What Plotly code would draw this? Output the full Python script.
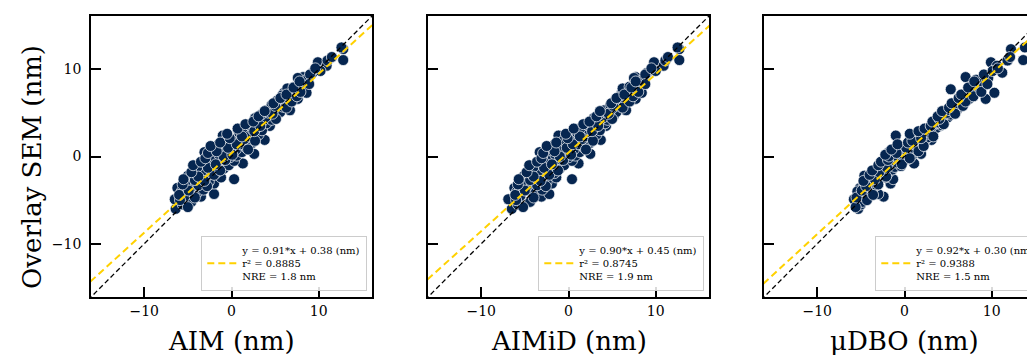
import plotly.graph_objects as go

# ---------------- data ----------------
methods = ["AIM", "AIMiD", "μDBO"]

y_sem = [
    -6.0, -4.9, -3.6, -4.6, -4.3, -2.2, -3.1, 0.5, 2.4, -0.8,
    2.0, 3.5, 5.3, 6.6, 7.7, 7.3, 8.1, 9.6, 10.8, 10.4,
    12.3, 11.05, 9.1, 12.5, 7.3, 1.9, 0.3, -2.6,
    -5.5, -5.2, -4.5, -4.2, -4.0, -3.8, -3.5, -3.3, -3.0, -2.9,
    -2.7, -2.5, -2.4, -2.2, -2.0, -1.9, -1.7, -1.5, -1.4, -1.2,
    -1.1, -1.0, -0.8, -0.7, -0.5, -0.4, -0.3, -0.1, 0.0, 0.1,
    0.2, 0.3, 0.5, 0.6, 0.7, 0.8, 0.9, 1.0, 1.1, 1.3,
    1.4, 1.5, 1.7, 1.8, 2.0, 2.2, 2.3, 2.5, 2.7, 2.8,
    3.0, 3.1, 3.3, 3.4, 3.6, 3.8, 3.9, 4.1, 4.2, 4.4,
    4.5, 4.7, 4.8, 5.0, 5.1, 5.3, 5.5, 5.7, 5.9, 6.0,
    6.2, 6.4, 6.6, 6.8, 7.0, 7.2, 7.5, 7.8, 8.0, 8.4,
    8.8, 9.0, 9.4, 9.8, 10.1, 11.0, 11.4,
    -5.8, -5.0, -4.7, -4.4, -3.9, -3.4, -3.2, -2.8, -2.6, -2.3,
    -2.1, -1.8, -1.6, -1.3, -1.0, -0.9, -0.6, -0.4, -0.2, 0.0,
    0.2, 0.4, 0.6, 0.8, 1.0, 1.2, 1.4, 1.6, 1.8, 2.1,
    2.3, 2.6, 2.9, 3.2, 3.5, 3.7, 4.0, 4.3, 4.6, 4.9,
    5.2, 5.6, 5.8, 6.1, 6.3, 6.7, 6.9, 7.1, 7.4, 7.9,
    8.3, 8.6,
]
x_aim = [
    -6.4, -6.5, -6.2, -3.5, -2.0, -5.0, -2.0, -3.1, -1.0, 1.3,
    2.8, 4.4, 6.7, 7.6, 6.9, 6.0, 8.2, 9.3, 9.9, 10.9,
    12.8, 12.8, 8.2, 12.6, 8.6, 3.8, 2.6, 0.3,
    -5.6, -4.6, -5.3, -4.0, -5.7, -3.2, -4.6, -3.8, -5.3, -2.6,
    -4.2, -3.5, -1.2, -2.8, -4.0, -1.8, -3.4, -2.4, -0.9, -3.9,
    -2.0, -0.3, -2.9, -1.5, 0.3, -2.5, -1.0, -0.2, -2.0, 0.6,
    -1.4, -0.6, 1.2, -0.1, -2.2, 0.5, -1.1, 1.7, 0.0, -1.6,
    1.0, 2.3, 0.3, -0.7, 1.5, 0.7, 2.0, 3.1, 0.9, 1.9,
    3.5, 2.4, 1.3, 3.0, 2.1, 4.0, 2.9, 3.6, 4.6, 2.7,
    3.9, 5.0, 3.4, 4.3, 5.6, 4.0, 4.9, 5.9, 4.6, 5.5,
    6.4, 5.2, 6.1, 7.0, 5.8, 6.6, 7.4, 6.4, 7.2, 7.9,
    8.6, 7.6, 9.0, 10.2, 9.6, 11.0, 11.5,
    -5.0, -5.9, -4.2, -6.0, -4.9, -2.8, -5.6, -3.1, -5.5, -3.8,
    -2.0, -4.6, -1.3, -2.7, -4.4, -1.8, -3.5, -0.7, -3.0, -0.9,
    0.1, -2.7, -1.7, 1.9, -0.4, -2.4, 0.6, -1.3, 2.7, -0.2,
    1.2, -0.5, 2.6, 0.7, 3.3, 1.6, 2.5, 5.1, 3.1, 4.7,
    3.8, 6.3, 5.0, 4.8, 6.9, 5.6, 7.5, 6.3, 7.9, 7.1,
    8.9, 7.8,
]
x_aimid = [
    -6.5, -6.9, -6.2, -3.1, -2.2, -5.1, -1.9, -3.3, -1.15, 1.15,
    2.9, 4.3, 6.6, 7.7, 6.5, 6.1, 8.0, 9.0, 9.8, 10.9,
    12.7, 12.7, 7.7, 12.5, 8.4, 3.7, 2.5, 0.4,
    -5.8, -4.4, -5.5, -4.1, -5.9, -3.0, -4.8, -3.6, -5.4, -2.5,
    -4.4, -3.6, -1.4, -2.9, -4.2, -1.6, -3.5, -2.2, -1.0, -4.0,
    -2.1, -0.5, -3.0, -1.3, 0.4, -2.6, -1.2, 0.0, -1.8, 0.8,
    -1.5, -0.4, 1.3, -0.3, -2.3, 0.6, -0.9, 1.8, 0.1, -1.7,
    1.1, 2.4, 0.2, -0.6, 1.6, 0.9, 1.9, 3.2, 1.0, 2.1,
    3.6, 2.3, 1.4, 3.1, 2.2, 4.2, 3.0, 3.5, 4.5, 2.9,
    4.0, 5.2, 3.5, 4.4, 5.5, 4.1, 5.0, 6.0, 4.8, 5.4,
    6.5, 5.3, 6.2, 7.1, 6.0, 6.8, 7.3, 6.2, 7.0, 7.8,
    8.5, 7.5, 8.8, 10.0, 9.5, 11.1, 11.4,
    -5.2, -6.0, -4.0, -6.1, -5.0, -2.6, -5.8, -3.2, -5.7, -4.0,
    -2.2, -4.8, -1.2, -2.8, -4.5, -1.9, -3.6, -0.6, -3.1, -1.0,
    0.3, -2.9, -1.6, 2.0, -0.2, -2.5, 0.5, -1.4, 2.8, -0.1,
    1.3, -0.3, 2.7, 0.6, 3.4, 1.7, 2.4, 5.0, 3.2, 4.6,
    3.6, 6.2, 5.1, 4.9, 7.0, 5.5, 7.4, 6.4, 8.0, 7.2,
    8.8, 7.7,
]
x_udbo = [
    -5.3, -5.8, -5.1, -2.4, -3.0, -4.6, -1.6, -1.8, -1.0, 1.1,
    2.2, 4.1, 6.0, 9.3, 5.3, 7.2, 9.1, 11.2, 9.9, 10.6,
    12.2, 13.6, 7.0, 13.8, 10.3, 3.1, 1.9, -1.3,
    -5.0, -4.8, -4.9, -4.3, -5.4, -3.7, -4.0, -3.2, -4.7, -3.6,
    -3.9, -2.9, -2.2, -3.1, -2.5, -1.9, -3.3, -1.4, -2.6, -1.1,
    -0.4, -1.7, -2.3, -0.8, -0.2, -1.5, 0.4, -0.9, 0.3, -1.2,
    0.9, -0.3, 0.5, 1.3, -0.6, 0.1, 1.7, 0.8, -0.4, 1.3,
    0.6, 1.9, 1.1, 2.3, 1.4, 2.7, 1.8, 2.4, 2.9, 2.0,
    3.4, 2.8, 3.7, 3.1, 4.2, 3.6, 3.9, 4.6, 3.9, 4.4,
    5.0, 4.5, 5.3, 4.9, 5.7, 5.2, 6.1, 5.5, 6.4, 6.0,
    6.8, 6.3, 7.4, 6.7, 7.7, 7.1, 8.0, 8.4, 7.6, 8.7,
    8.2, 9.6, 9.1, 10.1, 10.7, 11.8, 12.1,
    -5.6, -4.3, -5.5, -3.6, -4.9, -4.4, -3.0, -4.7, -3.4, -2.1,
    -4.0, -2.9, -3.7, -2.0, -3.0, -0.3, -2.7, -1.9, 0.6, -1.8,
    -2.2, -0.9, 1.6, -1.5, 0.2, 2.2, -0.8, 0.4, 0.9, 1.9,
    3.3, 0.6, 1.6, 2.3, 3.0, 4.5, 3.2, 4.0, 3.8, 5.8,
    4.3, 5.1, 6.7, 5.4, 7.0, 6.2, 7.9, 6.5, 8.8, 7.3,
    9.5, 8.0,
]
x_series = [x_aim, x_aimid, x_udbo]

fit_slope = [0.91, 0.90, 0.92]
fit_intercept = [0.38, 0.45, 0.30]
r_squared = ["0.8885", "0.8745", "0.9388"]
nre_nm = ["1.8", "1.9", "1.5"]
tick_vals = [-10, 0, 10]
axis_lim = 16.1

# ---------------- layout geometry (figure pixels; page has 8px body offset) ----------------
W, H = 1040, 355
ML, MT = 83, 8
panel_left = [83, 420, 756]
panel_size = 281
MR = W - (panel_left[2] + panel_size)
MB = H - (MT + panel_size)
PW = W - ML - MR
PH = H - MT - MB

FONT = "DejaVu Serif"
NAVY = "#062650"
GOLD = "#FFD100"

fig = go.Figure()
annotations = []
layout_axes = {}
legend_defs = {}

for i, m in enumerate(methods):
    k = "" if i == 0 else str(i + 1)
    xa, ya = "x" + k, "y" + k
    d0 = (panel_left[i] - ML) / PW
    d1 = min(1.0, (panel_left[i] + panel_size - ML) / PW)
    xs = x_series[i]

    fig.add_trace(go.Scatter(
        x=xs, y=y_sem, mode="markers", xaxis=xa, yaxis=ya, showlegend=False,
        marker=dict(size=11, color=NAVY, line=dict(color="white", width=0.7)),
    ))
    fig.add_trace(go.Scatter(
        x=[-axis_lim - 1, axis_lim + 1], y=[-axis_lim - 1, axis_lim + 1],
        mode="lines", xaxis=xa, yaxis=ya, showlegend=False,
        line=dict(color="black", width=1.3, dash="5px,3px"),
    ))
    lx = [-axis_lim - 1, axis_lim + 1]
    fig.add_trace(go.Scatter(
        x=lx, y=[fit_slope[i] * v + fit_intercept[i] for v in lx],
        mode="lines", xaxis=xa, yaxis=ya,
        name=(f"y = {fit_slope[i]:.2f}*x + {fit_intercept[i]:.2f} (nm)<br>"
              f"r² = {r_squared[i]}<br>NRE = {nre_nm[i]} nm"),
        legend="legend" + k,
        line=dict(color=GOLD, width=2, dash="7px,4px"),
    ))

    layout_axes["xaxis" + k] = dict(
        domain=[d0, d1], range=[-axis_lim, axis_lim], anchor=ya,
        tickvals=tick_vals, ticks="inside", ticklen=10, tickwidth=1.5,
        tickcolor="black", showline=True, linecolor="black", linewidth=1.6,
        mirror=True, showgrid=False, zeroline=False,
        tickfont=dict(family=FONT, size=14, color="black"), automargin=False,
    )
    layout_axes["yaxis" + k] = dict(
        domain=[0, 1], range=[-axis_lim, axis_lim], anchor=xa,
        tickvals=tick_vals, ticks="inside", ticklen=10, tickwidth=1.5,
        tickcolor="black", showline=True, linecolor="black", linewidth=1.6,
        mirror=True, showgrid=False, zeroline=False,
        showticklabels=(i == 0), ticklabelstandoff=5,
        tickfont=dict(family=FONT, size=14, color="black"), automargin=False,
    )

    if i < 2:
        leg_pos = dict(x=(panel_left[i] + panel_size - 5 - ML) / PW, xanchor="right")
    else:
        leg_pos = dict(x=(867 - ML) / PW, xanchor="left")
    legend_defs["legend" + k] = dict(
        **leg_pos, y=6 / PH, yanchor="bottom",
        bgcolor="rgba(255,255,255,0.85)", bordercolor="#cccccc", borderwidth=1.3,
        font=dict(family=FONT, size=10, color="black"), valign="middle",
        itemwidth=30, tracegroupgap=0,
    )

    cx = panel_left[i] + panel_size / 2
    annotations.append(dict(
        text=f"{m} (nm)", xref="paper", yref="paper",
        x=(cx - ML) / PW, y=-(333 - (MT + PH)) / PH,
        xanchor="center", yanchor="middle", showarrow=False,
        font=dict(family=FONT, size=26, color="black"),
    ))

annotations.append(dict(
    text="Overlay SEM (nm)", xref="paper", yref="paper",
    x=(24 - ML) / PW, y=((MT + PH) - 159) / PH, textangle=-90,
    xanchor="center", yanchor="middle", showarrow=False,
    font=dict(family=FONT, size=26, color="black"),
))

fig.update_layout(
    width=W, height=H,
    margin=dict(l=ML, r=MR, t=MT, b=MB, autoexpand=False),
    paper_bgcolor="white", plot_bgcolor="white",
    font=dict(family=FONT, color="black"),
    annotations=annotations,
    **layout_axes, **legend_defs,
)

fig.write_html("out.html")
